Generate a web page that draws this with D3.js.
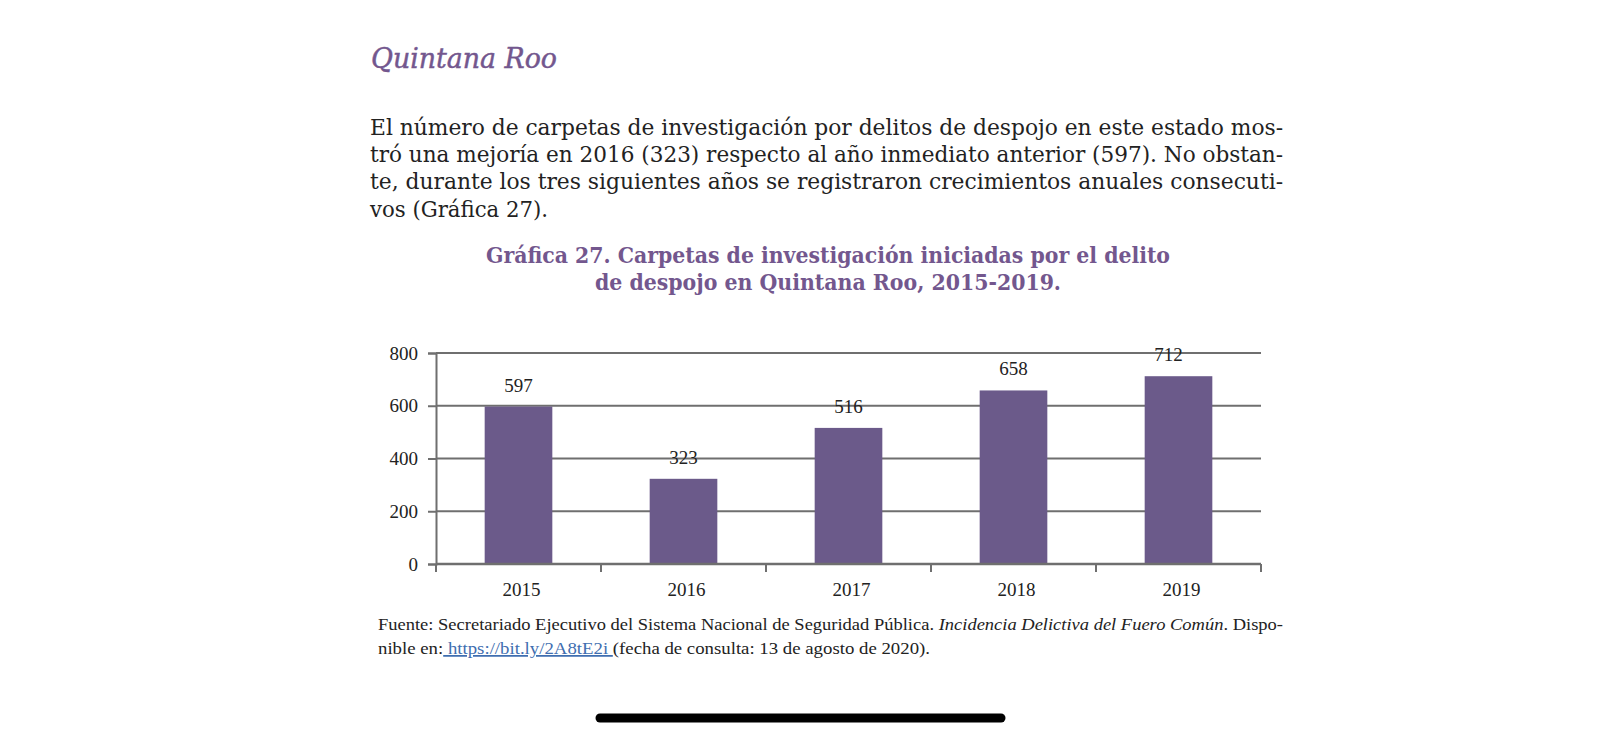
<!DOCTYPE html>
<html>
<head>
<meta charset="utf-8">
<script src="https://cdn.jsdelivr.net/npm/d3@7"></script>
<style>
  body { margin: 0; background: #fff; }
  svg { display: block; }
</style>
</head>
<body>
<svg width="1600" height="738"></svg>
<script>
// data
const years = ["2015", "2016", "2017", "2018", "2019"];
const counts = [597, 323, 516, 658, 712];
const yTicks = [0, 200, 400, 600, 800];

const heading = "Quintana Roo";
const bodyLines = [
  "El número de carpetas de investigación por delitos de despojo en este estado mos-",
  "tró una mejoría en 2016 (323) respecto al año inmediato anterior (597). No obstan-",
  "te, durante los tres siguientes años se registraron crecimientos anuales consecuti-",
  "vos (Gráfica 27)."
];
const titleLines = [
  "Gráfica 27. Carpetas de investigación iniciadas por el delito",
  "de despojo en Quintana Roo, 2015-2019."
];

const purple = "#73578e";
const barColor = "#6b5a8a";
const gridColor = "#6f6f6f";

let svg = d3.select("svg");

// heading
svg.append("text")
  .attr("x", 371).attr("y", 68)
  .attr("font-family", "DejaVu Serif Condensed, DejaVu Serif")
  .attr("font-style", "italic")
  .attr("font-size", 27)
  .attr("fill", purple)
  .attr("stroke", purple)
  .attr("stroke-width", 0.4)
  .attr("textLength", 186)
  .attr("lengthAdjust", "spacingAndGlyphs")
  .text(heading);

// paragraph, justified except the last line
svg.append("g")
  .selectAll("text")
  .data(bodyLines)
  .enter()
  .append("text")
  .attr("x", 370)
  .attr("y", (d, i) => 135 + i * 27.2)
  .attr("font-family", "DejaVu Serif Condensed, DejaVu Serif")
  .attr("font-size", 22)
  .attr("fill", "#222")
  .each(function (d, i) {
    let t = d3.select(this).text(d);
    if (i < bodyLines.length - 1) {
      t.attr("textLength", 913).attr("lengthAdjust", "spacingAndGlyphs");
    } else {
      t.attr("textLength", 178).attr("lengthAdjust", "spacingAndGlyphs");
    }
  });

// chart title
svg.append("g")
  .selectAll("text")
  .data(titleLines)
  .enter()
  .append("text")
  .attr("x", 828)
  .attr("y", (d, i) => 263 + i * 27)
  .attr("text-anchor", "middle")
  .attr("font-family", "DejaVu Serif Condensed, DejaVu Serif")
  .attr("font-weight", "bold")
  .attr("font-size", 21.5)
  .attr("fill", purple)
  .attr("textLength", (d, i) => (i === 0 ? 684 : 466))
  .attr("lengthAdjust", "spacingAndGlyphs")
  .text(d => d);

// scales
const x = d3.scaleBand()
  .domain(years)
  .range([436, 1261])
  .paddingInner(0.59)
  .paddingOuter(0.295);

const y = d3.scaleLinear()
  .domain([0, 800])
  .range([564, 353]);

const chartFont = "Liberation Serif, Times New Roman, serif";

// gridlines
svg.append("g")
  .selectAll("line")
  .data(yTicks.filter(d => d > 0))
  .enter()
  .append("line")
  .attr("x1", 436).attr("x2", 1261)
  .attr("y1", d => y(d)).attr("y2", d => y(d))
  .attr("stroke", gridColor)
  .attr("stroke-width", 2);

// bars
svg.append("g")
  .selectAll("rect")
  .data(counts)
  .enter()
  .append("rect")
  .attr("x", (d, i) => x(years[i]))
  .attr("width", x.bandwidth())
  .attr("y", d => y(d))
  .attr("height", d => y(0) - y(d))
  .attr("fill", barColor);

// value labels
svg.append("g")
  .selectAll("text")
  .data(counts)
  .enter()
  .append("text")
  .attr("x", (d, i) => x(years[i]) + x.bandwidth() / 2 - (d === 712 ? 10 : 0))
  .attr("y", d => y(d) - 15)
  .attr("text-anchor", "middle")
  .attr("font-family", chartFont)
  .attr("font-size", 19)
  .attr("fill", "#222")
  .text(d => d);

// y axis
let yAxis = svg.append("g")
  .attr("transform", "translate(436,0)")
  .call(d3.axisLeft(y).tickValues(yTicks).tickSize(8).tickPadding(10));
yAxis.select(".domain").attr("stroke", gridColor).attr("stroke-width", 2);
yAxis.selectAll(".tick line").attr("stroke", gridColor).attr("stroke-width", 2);
yAxis.selectAll(".tick text")
  .attr("font-family", chartFont)
  .attr("font-size", 19)
  .attr("fill", "#222");

// x axis, ticks at band edges
let xAxis = svg.append("g")
  .attr("transform", "translate(0," + y(0) + ")");
xAxis.append("line")
  .attr("x1", 436).attr("x2", 1261)
  .attr("stroke", gridColor).attr("stroke-width", 2.5);
let edges = years.map(d => x(d) - (x.step() - x.bandwidth()) / 2).concat([1261]);
xAxis.selectAll(".edge")
  .data(edges)
  .enter()
  .append("line")
  .attr("class", "edge")
  .attr("x1", d => d).attr("x2", d => d)
  .attr("y1", 0).attr("y2", 8)
  .attr("stroke", gridColor).attr("stroke-width", 2);
xAxis.selectAll(".yr")
  .data(years)
  .enter()
  .append("text")
  .attr("class", "yr")
  .attr("x", d => x(d) + x.bandwidth() / 2 + 3)
  .attr("y", 32)
  .attr("text-anchor", "middle")
  .attr("font-family", chartFont)
  .attr("font-size", 19)
  .attr("fill", "#222")
  .text(d => d);

// source note
let src1 = svg.append("text")
  .attr("x", 378).attr("y", 630)
  .attr("font-family", chartFont)
  .attr("font-size", 17.5)
  .attr("fill", "#222")
  .attr("textLength", 905)
  .attr("lengthAdjust", "spacingAndGlyphs");
src1.append("tspan").text("Fuente: Secretariado Ejecutivo del Sistema Nacional de Seguridad Pública. ");
src1.append("tspan").attr("font-style", "italic").text("Incidencia Delictiva del Fuero Común");
src1.append("tspan").text(". Dispo-");

let src2 = svg.append("text")
  .attr("x", 378).attr("y", 654)
  .attr("font-family", chartFont)
  .attr("font-size", 17.5)
  .attr("fill", "#222")
  .attr("xml:space", "preserve")
  .attr("textLength", 552)
  .attr("lengthAdjust", "spacingAndGlyphs");
src2.append("tspan").text("nible en:");
src2.append("tspan")
  .attr("fill", "#3f6eb0")
  .attr("text-decoration", "underline")
  .text(" https://bit.ly/2A8tE2i ");
src2.append("tspan").text("(fecha de consulta: 13 de agosto de 2020).");

// home indicator bar
svg.append("line")
  .attr("x1", 600).attr("x2", 1001)
  .attr("y1", 718).attr("y2", 718)
  .attr("stroke", "#000")
  .attr("stroke-width", 9)
  .attr("stroke-linecap", "round");
</script>
</body>
</html>
